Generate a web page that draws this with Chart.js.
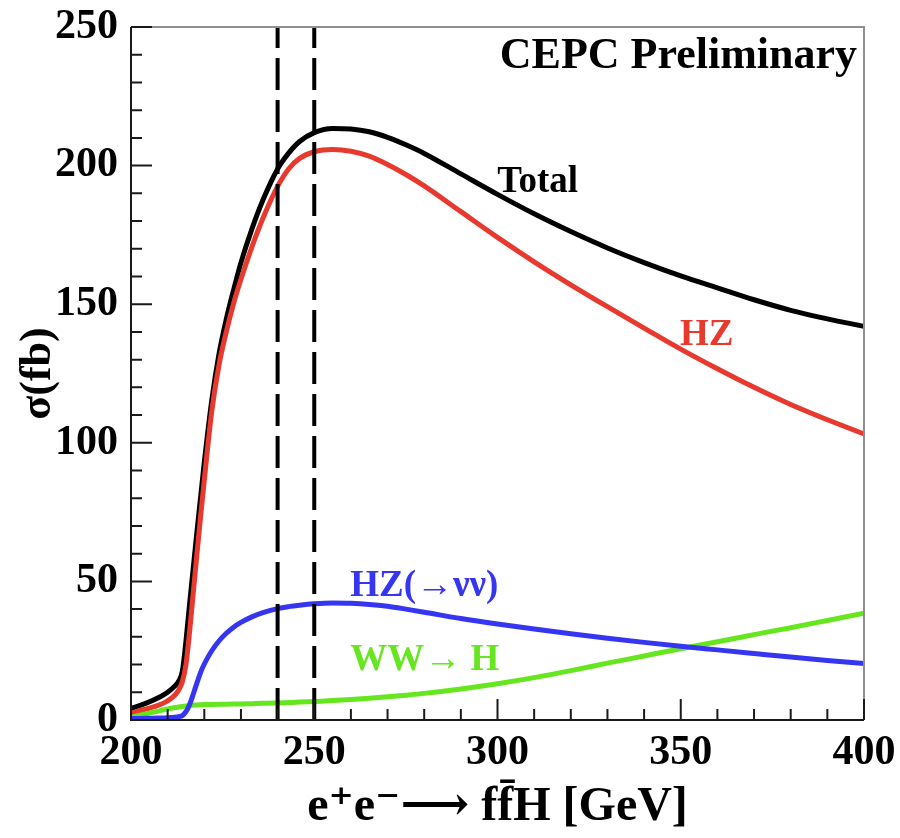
<!DOCTYPE html>
<html>
<head>
<meta charset="utf-8">
<title>CEPC Higgs cross sections</title>
<script src="https://cdn.jsdelivr.net/npm/chart.js@4.4.1/dist/chart.umd.min.js"></script>
<style>
  html, body { margin: 0; padding: 0; background: #fff; }
  #wrap { width: 900px; height: 838px; }
</style>
</head>
<body>
<div id="wrap"><canvas id="xsec" width="900" height="838"></canvas></div>
<script>
// --- data (sqrt(s) in GeV, sigma in fb) ---
const energy = [200, 204, 208, 210, 212, 213, 214, 215, 216, 217, 218, 219, 220, 222, 224, 226, 228, 230, 233, 236,
                240, 243, 246, 250, 255, 260, 265, 270, 275, 280, 290, 300, 310, 320, 330, 340, 350, 360, 370, 380, 390, 400];

const total  = [4.2, 6.0, 8.4, 10.0, 12.3, 14.0, 17.5, 28.5, 42, 55, 68, 80.5, 93, 115, 132, 144.6, 155.2, 165, 177.2, 187.6,
                198.8, 204.5, 208.7, 211.9, 213.4, 213.2, 212.2, 210.2, 207.5, 204.4, 197.0, 189.6, 182.6, 176.2, 170.3, 165.0, 160.2, 155.9, 151.6, 147.8, 144.7, 142.0];

const hz     = [2.5, 3.9, 5.6, 6.9, 9.0, 10.8, 13.8, 20, 32, 46, 60, 73.5, 86.5, 111, 128, 140, 150.3, 159, 170.7, 181,
                192.5, 198.8, 202.6, 205.0, 205.8, 205.2, 203.4, 200.4, 196.8, 192.7, 183.4, 174.1, 165.3, 157.0, 149.1, 141.4, 133.8, 126.7, 120.0, 113.8, 108.3, 103.2];

const hzNuNu = [0.5, 0.6, 0.7, 0.8, 1.0, 1.2, 1.6, 3.0, 5.6, 9.4, 13.4, 17.2, 20.2, 24.9, 28.5, 31.3, 33.5, 35.2, 37.2, 38.7,
                40.2, 40.9, 41.4, 41.9, 42.2, 42.1, 41.7, 41.0, 40.0, 38.9, 36.6, 34.6, 32.8, 31.1, 29.5, 28.0, 26.6, 25.3, 24.0, 22.7, 21.5, 20.4];

const wwFusion = [1.0, 2.2, 3.4, 4.0, 4.5, 4.7, 4.9, 5.1, 5.25, 5.35, 5.45, 5.5, 5.55, 5.6, 5.65, 5.7, 5.75, 5.8, 5.9, 6.0,
                  6.15, 6.3, 6.45, 6.7, 7.0, 7.4, 7.85, 8.35, 8.95, 9.6, 11.2, 13.1, 15.3, 17.8, 20.5, 23.1, 25.7, 28.2, 30.8, 33.3, 35.9, 38.5];

// candidate running energies (dashed lines)
const runPoints = [240, 250];

const xTicks = [200, 250, 300, 350, 400];
const yTicks = [0, 50, 100, 150, 200, 250];

const curveLabels = ["Total", "HZ", "HZ(→νν)", "WW→ H"];
const bannerText  = "CEPC Preliminary";

// --- styling ---
const SERIF = '"Liberation Serif", "DejaVu Serif", serif';
const colors = { total: "#000000", hz: "#e8392f", nunu: "#3535f2", ww: "#66e61e" };

const toXY = vals => energy.map((e, i) => ({ x: e, y: vals[i] }));

const curve = (data, color, order) => ({
  data: toXY(data),
  borderColor: color,
  borderWidth: 5,
  pointRadius: 0,
  cubicInterpolationMode: "monotone",
  fill: false,
  order
});

const datasets = [
  curve(total, colors.total, 5),
  curve(hz, colors.hz, 4),
  curve(wwFusion, colors.ww, 3),
  curve(hzNuNu, colors.nunu, 2),
  ...runPoints.map(e => ({
    data: [{ x: e, y: 0 }, { x: e, y: 250 }],
    borderColor: "#000",
    borderWidth: 4,
    borderDash: [32, 10],
    pointRadius: 0,
    order: 1
  }))
];

// label anchors in data units: [x, y, colour]
const labelSpots = [
  [299.9, 190.5, colors.total],
  [349.8, 135.3, colors.hz],
  [259.8, 44.7, colors.nunu],
  [259.8, 18.0, colors.ww]
];

// ROOT-like frame with inward ticks + text labels
const frame = {
  id: "frame",
  afterDatasetsDraw(chart) {
    const { ctx, chartArea: a, scales: { x, y } } = chart;
    ctx.save();

    ctx.lineCap = "butt";
    ctx.strokeStyle = "#909090";
    ctx.lineWidth = 2;
    ctx.beginPath();
    ctx.moveTo(a.left, a.top);
    ctx.lineTo(a.right, a.top);
    ctx.lineTo(a.right, a.bottom);
    ctx.stroke();

    ctx.strokeStyle = "#1a1a1a";
    ctx.beginPath();
    ctx.moveTo(a.left, a.top);
    ctx.lineTo(a.left, a.bottom);
    ctx.lineTo(a.right, a.bottom);
    ctx.stroke();

    ctx.beginPath();
    for (let v = 0; v <= 250; v += 10) {
      const py = y.getPixelForValue(v);
      const len = v % 50 === 0 ? 21 : 11;
      ctx.moveTo(a.left, py);
      ctx.lineTo(a.left + len, py);
    }
    for (let v = 200; v <= 400; v += 10) {
      const px = x.getPixelForValue(v);
      const len = v % 50 === 0 ? 21 : 11;
      ctx.moveTo(px, a.bottom);
      ctx.lineTo(px, a.bottom - len);
    }
    ctx.stroke();

    ctx.textBaseline = "alphabetic";
    ctx.textAlign = "left";
    ctx.font = "bold 37px " + SERIF;
    curveLabels.forEach((txt, i) => {
      const [lx, ly, col] = labelSpots[i];
      ctx.fillStyle = col;
      ctx.fillText(txt, x.getPixelForValue(lx), y.getPixelForValue(ly));
    });

    ctx.fillStyle = "#000";
    ctx.textAlign = "right";
    ctx.font = "bold 44px " + SERIF;
    ctx.fillText(bannerText, x.getPixelForValue(398.1), y.getPixelForValue(235.2));

    ctx.restore();
  }
};

Chart.defaults.font.family = SERIF;
Chart.defaults.color = "#000";

new Chart(document.getElementById("xsec"), {
  type: "line",
  data: { datasets },
  options: {
    responsive: false,
    animation: false,
    layout: { padding: { left: 0, top: 27, right: 36, bottom: 0 } },
    plugins: { legend: { display: false }, tooltip: { enabled: false } },
    scales: {
      x: {
        type: "linear",
        min: 200,
        max: 400,
        afterBuildTicks: s => { s.ticks = xTicks.map(v => ({ value: v })); },
        afterFit: s => { s.height = 118; s.paddingLeft = 0; s.paddingRight = 0; },
        grid: { display: false, drawTicks: false },
        border: { display: false },
        ticks: { padding: 8, font: { size: 42, weight: "bold" }, maxRotation: 0 },
        title: {
          display: true,
          text: "e⁺e⁻⟶ ff̄H [GeV]",
          font: { size: 48, weight: "bold" },
          padding: { top: 0, bottom: 2 }
        }
      },
      y: {
        min: 0,
        max: 250,
        afterBuildTicks: s => { s.ticks = yTicks.map(v => ({ value: v })); },
        afterFit: s => { s.width = 131; s.paddingTop = 0; s.paddingBottom = 0; },
        grid: { display: false, drawTicks: false },
        border: { display: false },
        ticks: { padding: 13, font: { size: 42, weight: "bold" } },
        title: {
          display: true,
          text: "σ(fb)",
          font: { size: 44, weight: "bold" },
          padding: { top: 12, bottom: 0 }
        }
      }
    }
  },
  plugins: [frame]
});
</script>
</body>
</html>
